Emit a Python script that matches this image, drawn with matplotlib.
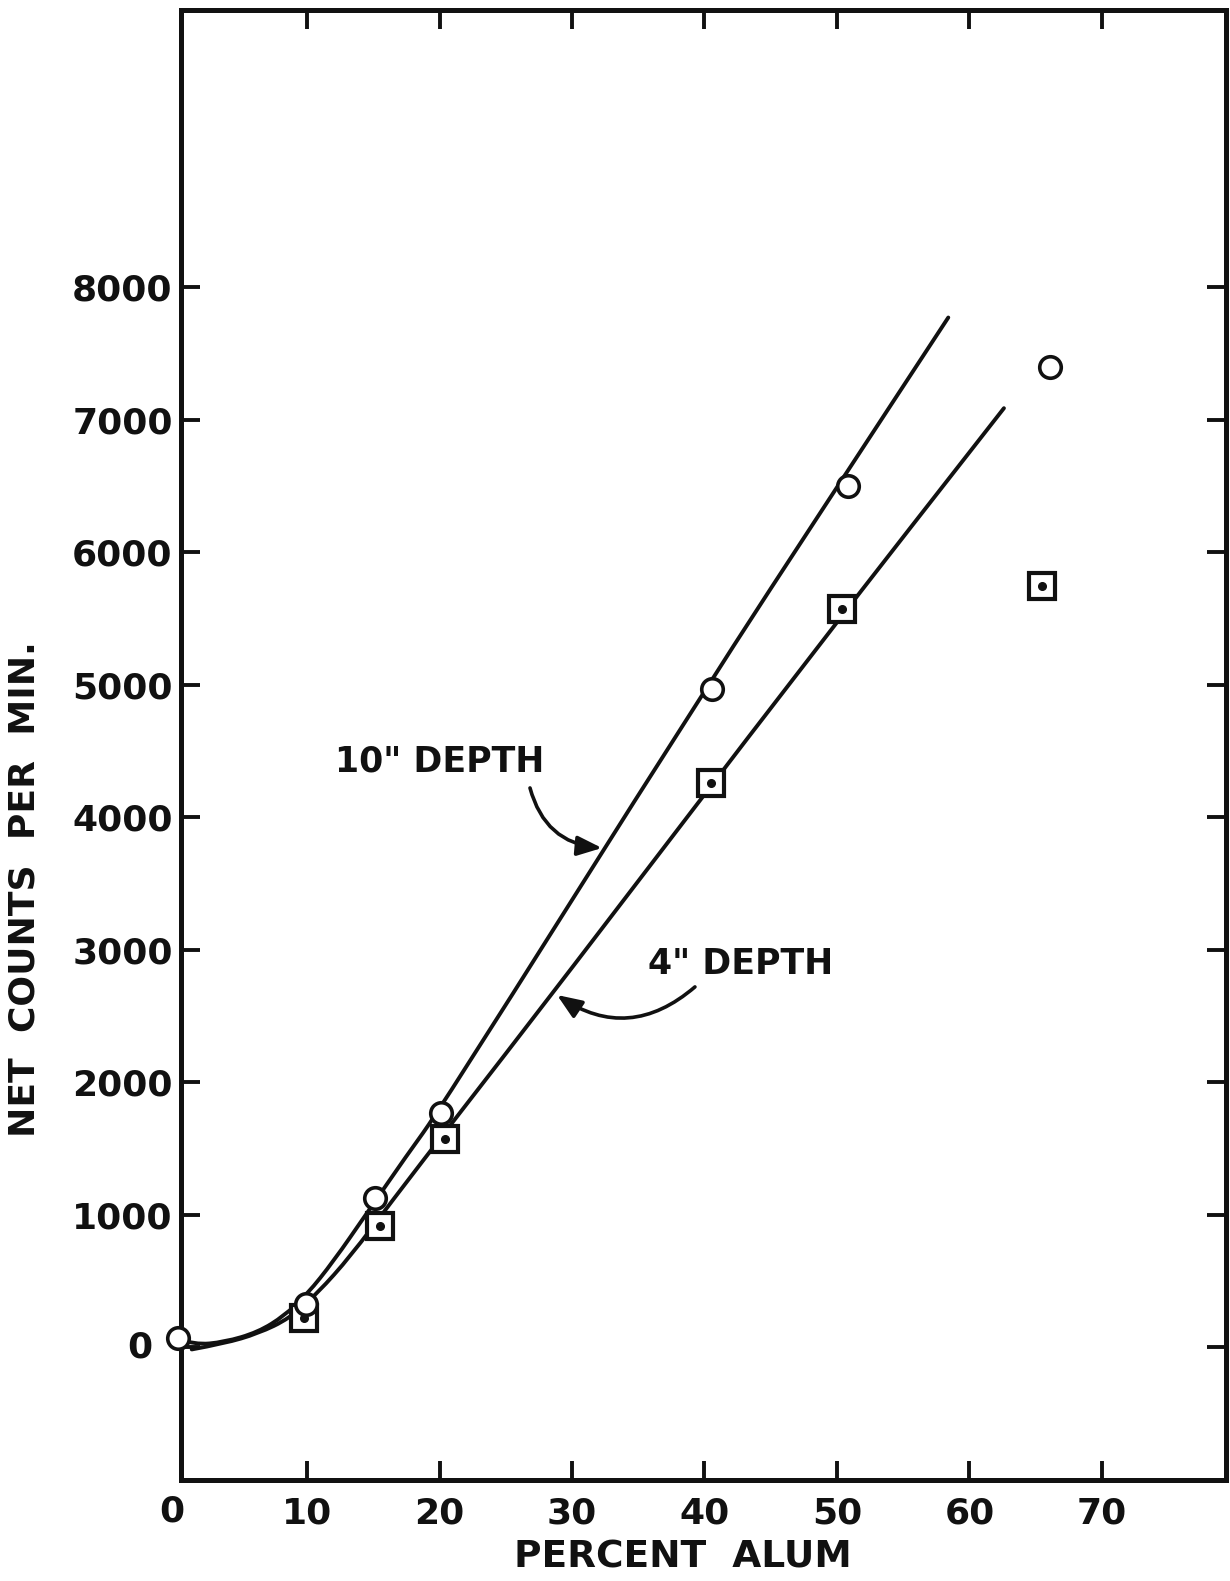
import matplotlib
matplotlib.use("Agg")
import matplotlib.pyplot as plt
from matplotlib.path import Path
from matplotlib.patches import PathPatch

# Measured points, 10 inch depth (circles)
alum_10in = [0.3, 9.9, 15.1, 20.1, 40.6, 50.8, 66.1]
counts_10in = [70, 330, 1125, 1765, 4965, 6500, 7395]

# Measured points, 4 inch depth (squares with centre dot)
alum_4in = [9.8, 15.5, 20.4, 40.5, 50.4, 65.5]
counts_4in = [220, 920, 1575, 4255, 5570, 5745]

# Hand-fitted calibration curves (vertices along each curve)
curve_10in_x = [0.3, 1.5, 3.75, 6.3, 8.3, 10.0, 12.0, 14.5, 17.5, 20.0, 40.0, 50.0, 58.4]
curve_10in_y = [65, 20, 40, 115, 240, 400, 650, 1010, 1445, 1790, 4960, 6490, 7770]
curve_4in_x = [1.3, 3.75, 6.3, 8.7, 10.8, 13.3, 16.3, 21.3, 28.6, 48.5, 62.6]
curve_4in_y = [-15, 30, 105, 220, 410, 690, 1090, 1740, 2680, 5284, 7086]

x_ticks = [10, 20, 30, 40, 50, 60, 70]
y_ticks = [0, 1000, 2000, 3000, 4000, 5000, 6000, 7000, 8000]
y_tick_labels = ["", "1000", "2000", "3000", "4000", "5000", "6000", "7000", "8000"]

INK = "#111111"
plt.rcParams["font.family"] = ["DejaVu Sans"]
plt.rcParams["font.weight"] = "bold"

W, H = 1230, 1581
fig = plt.figure(figsize=(W / 100, H / 100), dpi=100)
fig.patch.set_facecolor("white")
ax = fig.add_axes([181 / W, 1 - 1480 / H, (1226 - 181) / W, (1480 - 10) / H])
ax.set_xlim(0.49, 79.36)
ax.set_ylim(-1000, 10090)


def smooth_path(xs, ys):
    """Quadratic B-spline style path through midpoints of the vertices."""
    pts = list(zip(xs, ys))
    verts = [pts[0]]
    codes = [Path.MOVETO]
    for i in range(1, len(pts) - 1):
        mid = ((pts[i][0] + pts[i + 1][0]) / 2, (pts[i][1] + pts[i + 1][1]) / 2)
        verts += [pts[i], mid]
        codes += [Path.CURVE3, Path.CURVE3]
    verts.append(pts[-1])
    codes.append(Path.LINETO)
    return Path(verts, codes)


for cx, cy in [(curve_10in_x, curve_10in_y), (curve_4in_x, curve_4in_y)]:
    ax.add_patch(PathPatch(smooth_path(cx, cy), fill=False, lw=2.8,
                           edgecolor=INK, capstyle="round", joinstyle="round",
                           zorder=2, clip_on=False))

# 4 inch squares with dot
ax.plot(alum_4in, counts_4in, ls="none", marker="s", ms=19, mfc="white",
        mec=INK, mew=3.0, zorder=3, clip_on=False)
ax.plot(alum_4in, counts_4in, ls="none", marker="o", ms=5.5, mfc=INK,
        mec=INK, zorder=3.5, clip_on=False)
# 10 inch circles
ax.plot(alum_10in, counts_10in, ls="none", marker="o", ms=15.5, mfc="white",
        mec=INK, mew=2.6, zorder=4, clip_on=False)

# Curve labels with arrows
arrow_kw = dict(arrowstyle="-|>,head_length=0.75,head_width=0.3", lw=2.6,
                color=INK, shrinkA=0, shrinkB=0, mutation_scale=20)
ax.text(12.1, 4424, '10" DEPTH', fontsize=25, ha="left", va="center", color=INK)
ax.annotate("", xy=(32.26, 3768), xytext=(26.83, 4221),
            arrowprops=dict(connectionstyle="arc3,rad=0.35", **arrow_kw))
ax.text(35.7, 2893, '4" DEPTH', fontsize=25, ha="left", va="center", color=INK)
ax.annotate("", xy=(28.87, 2659), xytext=(39.28, 2720),
            arrowprops=dict(connectionstyle="arc3,rad=-0.38", **arrow_kw))

# Axes frame and ticks
for s in ax.spines.values():
    s.set_linewidth(3.6)
    s.set_color(INK)
ax.set_xticks(x_ticks)
ax.set_xticklabels([str(v) for v in x_ticks])
ax.set_yticks(y_ticks)
ax.set_yticklabels(y_tick_labels)
ax.tick_params(direction="in", length=14, width=2.8, color=INK,
               top=True, right=True, labelsize=26, labelcolor=INK)
ax.tick_params(axis="x", pad=12)
ax.tick_params(axis="y", pad=6)

# Origin labels
fig.text(172 / W, 1 - 1511 / H, "0", fontsize=26, ha="center", va="center", color=INK)
fig.text(140 / W, 1 - 1347 / H, "0", fontsize=26, ha="center", va="center", color=INK)

# Axis titles
fig.text(683 / W, 1 - 1558 / H, "PERCENT  ALUM", fontsize=27, ha="center",
         va="center", color=INK)
fig.text(25 / W, 1 - 889 / H, "NET  COUNTS  PER  MIN.", fontsize=26, ha="center",
         va="center", rotation=90, color=INK)

fig.savefig("out.png", dpi=100)
